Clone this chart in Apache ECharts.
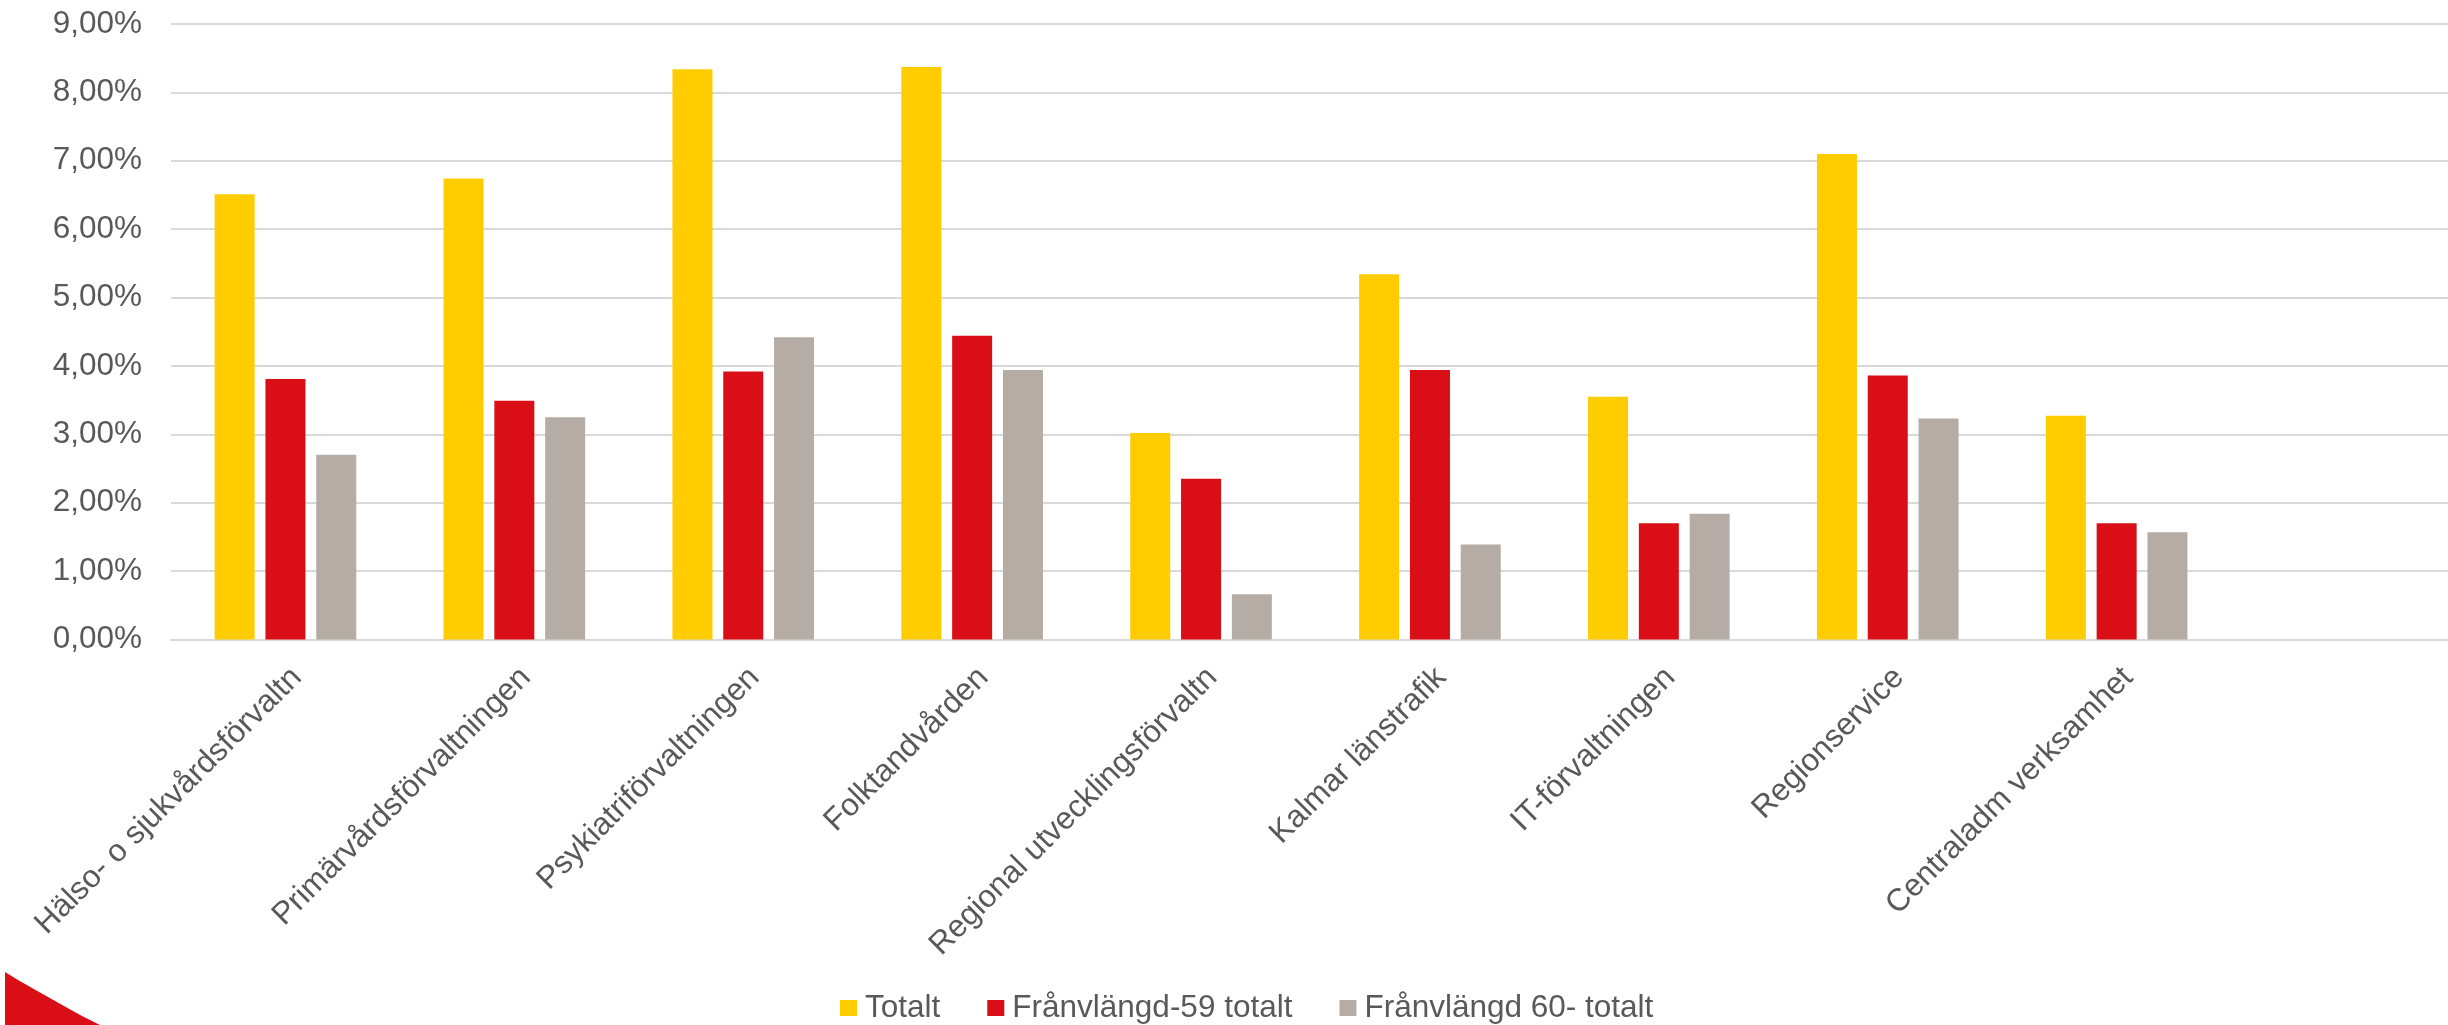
<!DOCTYPE html>
<html>
<head>
<meta charset="utf-8">
<script src="https://cdn.jsdelivr.net/npm/echarts@6/dist/echarts.min.js"></script>
<style>
html,body{margin:0;padding:0;background:#fff;overflow:hidden;width:2448px;height:1025px;}
#chart{width:2460px;height:1025px;}
</style>
</head>
<body>
<div id="chart"></div>
<script>
const categories = [
  "Hälso- o sjukvårdsförvaltn",
  "Primärvårdsförvaltningen",
  "Psykiatriförvaltningen",
  "Folktandvården",
  "Regional utvecklingsförvaltn",
  "Kalmar länstrafik",
  "IT-förvaltningen",
  "Regionservice",
  "Centraladm verksamhet",
  ""
];
const seriesNames = ["Totalt", "Frånvlängd-59 totalt", "Frånvlängd 60- totalt"];
const totalt      = [6.51, 6.74, 8.34, 8.37, 3.02, 5.34, 3.55, 7.10, 3.27, null];
const franv59     = [3.81, 3.49, 3.92, 4.44, 2.35, 3.94, 1.70, 3.86, 1.70, null];
const franv60     = [2.70, 3.25, 4.42, 3.94, 0.66, 1.39, 1.84, 3.23, 1.57, null];
const yTicks = { min: 0, max: 9, interval: 1 };
const colors = ["#FFCC00", "#DA0E17", "#B5ADA5"];

const chart = echarts.init(document.getElementById('chart'), null, {renderer: 'canvas'});
const font = "'Liberation Sans', Arial, sans-serif";
const fmt = v => v.toFixed(2).replace('.', ',') + '%';
const FS = 31.5;

chart.setOption({
  animation: false,
  backgroundColor: '#ffffff',
  textStyle: { fontFamily: font },
  grid: { left: 171, right: 0, top: 24, bottom: 385.5, containLabel: false },
  legend: {
    left: 840, top: 992,
    padding: 0,
    itemWidth: 17, itemHeight: 16, itemGap: 47,
    icon: 'rect',
    textStyle: { color: '#595959', fontSize: FS, fontFamily: font, padding: [0,0,0,3] },
    data: seriesNames
  },
  xAxis: {
    type: 'category',
    data: categories,
    axisLine: { show: true, lineStyle: { color: '#d9d9d9', width: 2 } },
    axisTick: { show: false },
    axisLabel: { rotate: 45, interval: 0, color: '#595959', fontSize: FS, fontFamily: font, margin: 22, verticalAlign: 'top' }
  },
  yAxis: {
    type: 'value',
    min: yTicks.min, max: yTicks.max, interval: yTicks.interval,
    axisLine: { show: false },
    axisTick: { show: false },
    splitLine: { lineStyle: { color: '#d9d9d9', width: 2 } },
    axisLabel: { color: '#595959', fontSize: FS, fontFamily: font, margin: 29, formatter: fmt }
  },
  series: [
    { name: seriesNames[0], type: 'bar', data: totalt,  barWidth: 40, barGap: '27%', itemStyle: { color: colors[0] } },
    { name: seriesNames[1], type: 'bar', data: franv59, barWidth: 40, barGap: '27%', itemStyle: { color: colors[1] } },
    { name: seriesNames[2], type: 'bar', data: franv60, barWidth: 40, barGap: '27%', itemStyle: { color: colors[2] } }
  ],
  graphic: [
    {
      type: 'polygon',
      shape: { points: [[5,972],[18,980],[32,988],[48,997],[64,1006],[82,1016],[100,1025],[5,1025]] },
      style: { fill: '#DA0E17' },
      silent: true
    }
  ]
});
</script>
</body>
</html>
